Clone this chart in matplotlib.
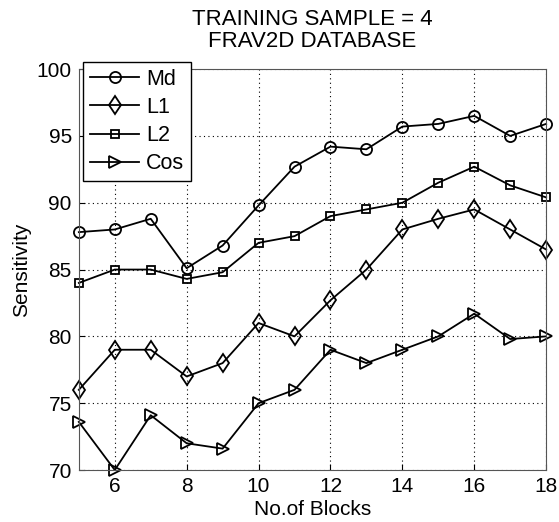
import matplotlib
matplotlib.use("Agg")
import matplotlib.pyplot as plt

plt.rcParams['font.family'] = ['Liberation Sans', 'DejaVu Sans']

blocks = [5, 6, 7, 8, 9, 10, 11, 12, 13, 14, 15, 16, 17, 18]
md = [87.8, 88.0, 88.8, 85.1, 86.8, 89.8, 92.7, 94.2, 94.0, 95.7, 95.9, 96.5, 95.0, 95.9]
l1 = [76.0, 79.0, 79.0, 77.0, 78.0, 81.0, 80.0, 82.7, 85.0, 88.0, 88.8, 89.5, 88.0, 86.5]
l2 = [84.0, 85.0, 85.0, 84.3, 84.8, 87.0, 87.5, 89.0, 89.5, 90.0, 91.5, 92.7, 91.3, 90.4]
cos = [73.6, 70.0, 74.1, 72.0, 71.6, 75.0, 76.0, 79.0, 78.0, 79.0, 80.0, 81.7, 79.8, 80.0]
xticks = [6, 8, 10, 12, 14, 16, 18]
yticks = [70, 75, 80, 85, 90, 95, 100]

fig = plt.figure(figsize=(5.59, 5.22), dpi=100)
ax = fig.add_axes([0.141, 0.0996, 0.836, 0.768])

kw = dict(color='black', linewidth=1.3, markerfacecolor='none', markeredgecolor='black', markeredgewidth=1.3, clip_on=False)
ax.plot(blocks, md, marker='o', markersize=8, label='Md', **kw)
ax.plot(blocks, l1, marker='d', markersize=9.5, label='L1', **kw)
ax.plot(blocks, l2, marker='s', markersize=5.5, label='L2', **kw)
ax.plot(blocks, cos, marker='>', markersize=8, label='Cos', **kw)

ax.set_xlim(5, 18)
ax.set_ylim(70, 100)
ax.set_xticks(xticks)
ax.set_yticks(yticks)
ax.tick_params(labelsize=15, direction='in', length=4, pad=5)
ax.grid(True, linestyle=(0, (1, 3)), color='black', linewidth=0.8)
ax.set_xlabel('No.of Blocks', fontsize=15, labelpad=3)
ax.set_ylabel('Sensitivity', fontsize=15, labelpad=4)
ax.set_title('TRAINING SAMPLE = 4\nFRAV2D DATABASE', fontsize=16, pad=16, linespacing=1.05)
for s in ax.spines.values():
    s.set_color('#555555')

leg = ax.legend(loc='upper left', bbox_to_anchor=(83 / 559, 1 - 62 / 522), bbox_transform=fig.transFigure,
                fontsize=15.5, fancybox=False, framealpha=1, edgecolor='black',
                handlelength=2.3, borderaxespad=0.0, labelspacing=0.33, handletextpad=0.3, borderpad=0.32)
leg.get_frame().set_linewidth(1.0)

fig.savefig('out.png', dpi=100)
